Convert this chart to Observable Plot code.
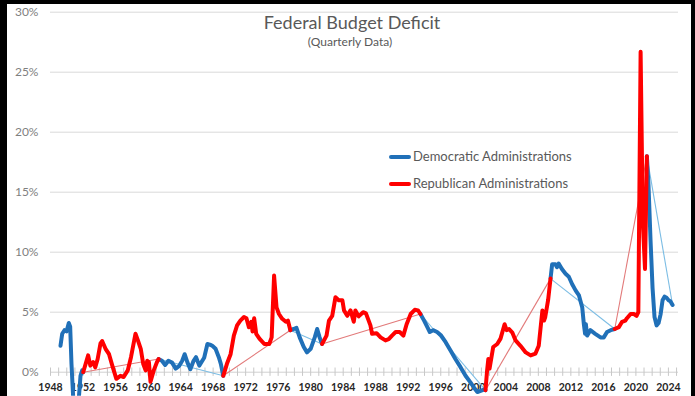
<!DOCTYPE html>
<html><head><meta charset="utf-8">
<script src="https://cdn.jsdelivr.net/npm/d3@7"></script>
<script src="https://cdn.jsdelivr.net/npm/@observablehq/plot@0.6"></script>
<style>
html,body{margin:0;padding:0;background:#000;width:695px;height:396px;overflow:hidden;font-family:Lato,"Open Sans",sans-serif;}
#wrap{position:absolute;left:7px;top:4px;width:684px;height:392px;background:#fff;overflow:hidden;}
.t{position:absolute;color:#595959;white-space:nowrap;}
#title{left:0;width:704px;text-align:center;top:13px;font-size:18px;line-height:18px;}
#subtitle{left:0;width:700px;text-align:center;top:36px;font-size:12px;line-height:12px;}
.sw{position:absolute;width:22px;height:4px;border-radius:2px;}
.lg{font-size:13px;line-height:13px;}
</style></head><body>
<div id="wrap"><div id="chart"></div></div>
<div id="title" class="t">Federal Budget Deficit</div>
<div id="subtitle" class="t">(Quarterly Data)</div>
<div class="sw" id="swD" style="left:389px;top:155px;"></div>
<div class="t lg" style="left:413px;top:150px;">Democratic Administrations</div>
<div class="sw" id="swR" style="left:389px;top:182px;"></div>
<div class="t lg" style="left:413px;top:177px;">Republican Administrations</div>
<script>
// Quarterly federal deficit, % of GDP
const years = [
 1949.23,1949.44,1949.72,1949.97,1950.25,1950.42,1950.58,1950.79,1951.0,1951.26,1951.48,1951.69,1951.9,1952.02,
 1952.63,1952.9,1953.25,1953.5,1953.8,1954.15,1954.35,1954.77,1955.2,1955.6,1956.1,1956.6,1957.0,1957.5,1957.9,1958.45,1958.75,1959.1,1959.4,1959.7,1959.9,1960.1,1960.3,1960.7,1961.1,1961.3,
 1961.7,1962.1,1962.5,1962.95,1963.4,1963.8,1964.2,1964.5,1964.85,1965.2,1965.6,1965.9,1966.3,1966.9,1967.3,1967.6,1967.9,1968.3,1968.7,1968.95,1969.25,
 1969.7,1970.15,1970.55,1970.95,1971.35,1971.8,1972.1,1972.4,1972.7,1972.85,1973.05,1973.3,1973.7,1974.3,1974.9,1975.2,1975.5,1975.8,1976.1,1976.5,1976.95,1977.2,1977.5,
 1977.9,1978.25,1978.65,1979.15,1979.55,1980.0,1980.5,1980.8,1981.1,1981.4,
 1981.95,1982.25,1982.65,1983.05,1983.45,1983.9,1984.1,1984.5,1984.9,1985.3,1985.5,1985.9,1986.45,1986.8,1987.35,1987.55,1988.1,1988.6,1989.2,1989.6,1990.0,1990.45,1990.95,1991.4,1991.8,1992.3,1992.8,1993.2,1993.5,
 1993.95,1994.35,1994.65,1995.05,1995.55,1996.05,1996.6,1997.2,1997.8,1998.45,1999.05,1999.65,2000.05,2000.5,2000.9,2001.3,2001.5,
 2001.7,2001.85,2002.0,2002.45,2002.95,2003.35,2003.85,2004.1,2004.4,2004.8,2005.2,2005.8,2006.45,2007.05,2007.65,2008.05,2008.5,2008.7,2008.85,2009.2,2009.5,
 2009.7,2010.1,2010.3,2010.5,2010.9,2011.35,2011.75,2012.15,2012.6,2013.0,2013.4,2013.6,2013.75,2013.85,2014.0,2014.4,2015.0,2015.65,2016.05,2016.45,2016.9,2017.4,
 2017.9,2018.3,2018.7,2018.9,2019.35,2019.75,2020.08,2020.3,2020.58,2020.85,2021.12,2021.35,
 2021.55,2021.8,2022.05,2022.29,2022.54,2022.79,2023.03,2023.28,2023.52,2023.77,2024.02,2024.26,2024.51
];
const deficitPct = [
 2.2,3.2,3.5,3.4,4.1,3.8,0.7,-2.1,-4.5,-3.5,-2.2,-0.3,0.15,0.0,
 1.4,0.55,0.85,0.4,1.1,2.4,2.6,1.95,1.5,0.55,-0.55,-0.3,-0.4,0.15,1.25,3.2,2.65,1.95,0.7,0.15,0.95,0.85,-0.8,0.15,0.85,1.1,
 0.95,0.6,0.95,0.8,0.3,0.5,0.95,1.5,0.8,0.25,0.95,1.25,0.55,1.2,2.35,2.3,2.2,1.95,1.25,0.7,-0.3,
 0.7,1.5,3.05,3.9,4.3,4.6,4.5,3.75,4.2,3.4,4.5,3.2,2.8,2.35,2.35,2.9,8.05,5.4,4.85,4.45,4.2,4.3,3.5,
 3.6,3.7,2.9,2.1,1.65,1.95,2.9,3.6,2.9,2.35,
 3.05,4.3,4.7,6.25,6.0,6.0,5.15,4.7,5.15,4.2,5.15,4.65,5.0,4.9,3.9,3.2,3.25,2.9,2.65,2.75,3.05,3.35,3.35,3.05,4.0,4.85,5.2,5.15,4.85,
 4.3,3.75,3.35,3.5,3.35,3.05,2.5,1.8,1.1,0.4,-0.3,-0.85,-1.25,-1.65,-1.55,-1.45,-1.5,
 0.15,1.1,0.3,2.1,2.35,2.8,4.0,3.5,3.6,3.3,2.65,2.2,1.65,1.4,1.55,2.2,5.15,4.3,4.6,6.0,7.8,
 9.0,9.0,8.75,9.05,8.6,8.2,7.95,7.35,6.8,6.4,5.4,4.0,3.2,4.0,3.05,3.5,3.2,2.9,2.9,3.35,3.5,3.6,
 3.75,4.2,4.3,4.5,4.85,4.85,4.7,5.0,26.7,12.5,8.6,18.0,
 15.6,11.0,7.0,4.6,3.9,4.1,4.8,6.0,6.3,6.2,6.0,5.9,5.6
];
// Years at which the party in the White House changes (first/last point shared)
const partyChangeYears = [1952.02,1961.3,1969.25,1977.5,1981.4,1993.5,2001.5,2009.5,2017.4,2021.35];
const administrationParty = ["Democratic","Republican","Democratic","Republican","Democratic","Republican","Democratic","Republican","Democratic","Republican","Democratic"];
const yTicks = [0,5,10,15,20,25,30];
const xTickYears = d3.range(1948, 2025, 4);
const minorTickYears = d3.range(1948, 2026, 1);
const partyColor = {Democratic:"#2070b8", Republican:"#ff0000"};
const trendColor = {Democratic:"#7cbde4", Republican:"#e27a7a"};

document.getElementById("swD").style.background = partyColor.Democratic;
document.getElementById("swR").style.background = partyColor.Republican;

const rows = [];
const trends = [];
administrationParty.forEach((party, i) => {
  const lo = i === 0 ? -Infinity : partyChangeYears[i-1];
  const hi = i === administrationParty.length - 1 ? Infinity : partyChangeYears[i];
  const pts = [];
  years.forEach((y, k) => { if (y >= lo && y <= hi) pts.push({year: y, value: deficitPct[k], seg: i, party}); });
  rows.push(...pts);
  // the first administration is only partly covered by the data: no start-to-end line
  if (i > 0) trends.push({party, x1: pts[0].year, y1: pts[0].value, x2: pts[pts.length-1].year, y2: pts[pts.length-1].value});
});

const chart = Plot.plot({
  width: 684, height: 392,
  marginLeft: 43, marginRight: 13, marginTop: 7.7, marginBottom: 0.3,
  style: {background: "#fff", fontFamily: "Lato, sans-serif", overflow: "visible"},
  x: {domain: [1948, 2025.24], axis: null},
  y: {domain: [-2, 30], axis: null},
  marks: [
    Plot.ruleY(yTicks.filter(d => d > 0), {stroke: "#d9d9d9", strokeWidth: 1}),
    Plot.ruleY([0], {stroke: "#d0d0d0", strokeWidth: 1}),
    Plot.ruleX(minorTickYears, {x: d => d, y1: -0.35, y2: 0.35, stroke: "#c8c8c8"}),
    Plot.text(yTicks, {y: d => d, frameAnchor: "left", dx: -12, textAnchor: "end", text: d => d + "%", fontSize: 12, fill: "#7f7f7f"}),
    Plot.text(xTickYears, {x: d => d, y: 0, dy: 15, text: d => String(d), fontWeight: "bold", fontSize: 10.5, fill: "#262626"}),
    Plot.link(trends.filter(d => d.party === "Democratic"), {x1: "x1", y1: "y1", x2: "x2", y2: "y2", stroke: trendColor.Democratic, strokeWidth: 1.1, clip: true}),
    Plot.link(trends.filter(d => d.party === "Republican"), {x1: "x1", y1: "y1", x2: "x2", y2: "y2", stroke: trendColor.Republican, strokeWidth: 1.1, clip: true}),
    Plot.line(rows.filter(d => d.party === "Democratic"), {x: "year", y: "value", z: "seg", stroke: partyColor.Democratic, strokeWidth: 4, strokeLinejoin: "round", strokeLinecap: "round", clip: true}),
    Plot.line(rows.filter(d => d.party === "Republican"), {x: "year", y: "value", z: "seg", stroke: partyColor.Republican, strokeWidth: 4, strokeLinejoin: "round", strokeLinecap: "round", clip: true})
  ]
});
document.getElementById("chart").appendChild(chart);
</script>
</body></html>
